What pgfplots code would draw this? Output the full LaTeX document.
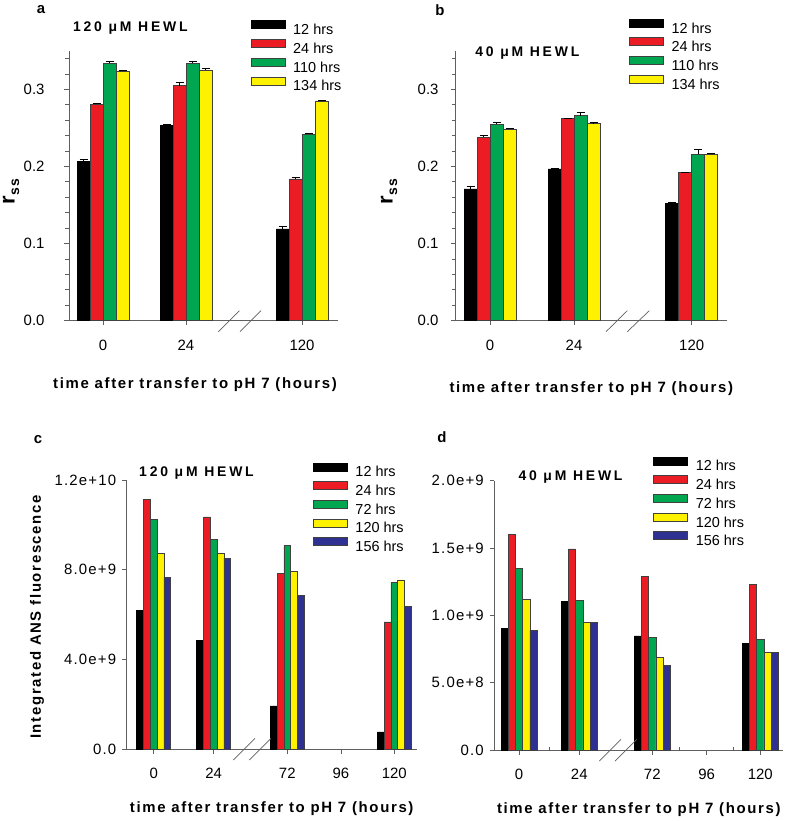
\documentclass[border=0pt]{standalone}
\usepackage{pgfplots}
\pgfplotsset{compat=1.18}
\usepackage{fontspec}
\setmainfont{Liberation Sans}
\newfontfamily\wideA[LetterSpace=11]{Liberation Sans}
\newfontfamily\wideT[LetterSpace=8]{Liberation Sans}
\newfontfamily\wideB[LetterSpace=20]{Liberation Sans}
\definecolor{cR}{RGB}{236,28,36}
\definecolor{cG}{RGB}{0,166,80}
\definecolor{cY}{RGB}{255,242,0}
\definecolor{cB}{RGB}{46,49,146}
\definecolor{axgray}{RGB}{95,95,95}
\newcommand{\fs}[1]{\fontsize{#1}{#1}\selectfont}

\pgfplotsset{
  panel/.style={
    scale only axis, anchor=south west, clip=false,
    xmin=0, ymin=0,
    axis x line*=bottom, axis y line*=left,
    axis line style={-, draw=axgray, line width=0.8bp},
    tick style={draw=axgray, line width=0.8bp},
    tick align=outside,
    major tick length=4.5bp, minor tick length=3.5bp,
    /pgf/number format/assume math mode=true,
    scaled y ticks=false,
    legend cell align=left,
    legend style={draw=none, fill=none, inner sep=0pt, outer sep=0pt, anchor=north west,
      column sep=8bp, row sep=0pt, font=\fs{14.5},
      nodes={inner sep=0pt, outer sep=0pt, text height=14.35bp, text depth=4.35bp}},
    every axis x label/.style={at={(axis description cs:0.5,0)}, anchor=center, font=\wideA\bfseries\fs{15}},
    every axis y label/.style={at={(axis description cs:0,0.5)}, anchor=center, rotate=90, font=\wideA\bfseries\fs{15}},
    error bars/error bar style={draw=black, line width=0.7bp},
    error bars/error mark options={draw=black, mark size=4bp, line width=0.7bp, rotate=90},
  },
  mybar/.style={ybar, line width=0.5bp,
    legend image code/.code={\draw[##1, line width=0.5bp] (0bp,1bp) rectangle (34bp,9bp);}},
  bK/.style={mybar, fill=black, draw=black},
  bR/.style={mybar, fill=cR, draw=black!75},
  bG/.style={mybar, fill=cG, draw=black!75},
  bY/.style={mybar, fill=cY, draw=black!75},
  bB/.style={mybar, fill=cB, draw=black!75},
  eb/.style={error bars/y dir=plus, error bars/y explicit},
}

\begin{document}
\begin{tikzpicture}
\useasboundingbox (0,0) rectangle (787bp,-821bp);

% ---------------- panel a
\begin{axis}[panel, at={(69bp,-320.7bp)}, width=269bp, height=269.9bp, xmax=269, ymax=0.35,
  ytick={0,0.1,0.2,0.3},
  minor ytick={0.02,0.04,0.06,0.08,0.12,0.14,0.16,0.18,0.22,0.24,0.26,0.28,0.32,0.34},
  yticklabel style={font=\fs{15}, xshift=-16.5bp, /pgf/number format/.cd, fixed, fixed zerofill, precision=1},
  xtick={34,117,233}, xticklabels={0,24,120}, xticklabel style={font=\fs{15}, yshift=-11.5bp},
  xlabel={time after transfer to pH 7 (hours)}, xlabel style={xshift=-8.5bp, yshift=-64.3bp},
  ylabel={r\raisebox{-0.4ex}{\fs{14}ss}}, ylabel style={font=\wideA\bfseries\fs{22}, inner sep=0pt, yshift=58bp, at={(axis description cs:0,0.478)}},
  legend style={at={(axis description cs:0.6755,1.113)}},
]
\addplot[bK, eb, bar width=13] coordinates {(14.5,0.207) +- (0,0.002) (97.5,0.253) +- (0,0.002) (213.5,0.119) +- (0,0.004)};
\addplot[bR, eb, bar width=13] coordinates {(27.5,0.281) +- (0,0.001) (110.5,0.305) +- (0,0.004) (226.5,0.184) +- (0,0.002)};
\addplot[bG, eb, bar width=13] coordinates {(40.5,0.334) +- (0,0.002) (123.5,0.334) +- (0,0.002) (239.5,0.242) +- (0,0.001)};
\addplot[bY, eb, bar width=13] coordinates {(53.5,0.324) +- (0,0.001) (136.5,0.325) +- (0,0.002) (252.5,0.285) +- (0,0.001)};
\legend{12 hrs, 24 hrs, 110 hrs, 134 hrs}
\draw[axgray, line width=0.7bp] (axis cs:149.3,0) ++(0bp,-11bp) -- ++(21bp,21bp);
\draw[axgray, line width=0.7bp] (axis cs:171,0) ++(0bp,-11bp) -- ++(21bp,21bp);
\end{axis}

% ---------------- panel b
\begin{axis}[panel, at={(455bp,-320.7bp)}, width=271.7bp, height=269.9bp, xmax=271.7, ymax=0.35,
  ytick={0,0.1,0.2,0.3},
  minor ytick={0.02,0.04,0.06,0.08,0.12,0.14,0.16,0.18,0.22,0.24,0.26,0.28,0.32,0.34},
  yticklabel style={font=\fs{15}, xshift=-8.5bp, /pgf/number format/.cd, fixed, fixed zerofill, precision=1},
  xtick={35,119,236.7}, xticklabels={0,24,120}, xticklabel style={font=\fs{15}, yshift=-11.5bp},
  xlabel={time after transfer to pH 7 (hours)}, xlabel style={xshift=0.4bp, yshift=-68bp},
  ylabel={r\raisebox{-0.4ex}{\fs{14}ss}}, ylabel style={font=\wideA\bfseries\fs{22}, inner sep=0pt, yshift=66bp, at={(axis description cs:0,0.478)}},
  legend style={at={(axis description cs:0.6404,1.119)}},
]
\addplot[bK, eb, bar width=13] coordinates {(15.5,0.171) +- (0,0.003) (99.5,0.197) +- (0,0.001) (217.2,0.152) +- (0,0.001)};
\addplot[bR, eb, bar width=13] coordinates {(28.5,0.238) +- (0,0.002) (112.5,0.262) +- (0,0.001) (230.2,0.192) +- (0,0.001)};
\addplot[bG, eb, bar width=13] coordinates {(41.5,0.255) +- (0,0.002) (125.5,0.266) +- (0,0.004) (243.2,0.216) +- (0,0.006)};
\addplot[bY, eb, bar width=13] coordinates {(54.5,0.248) +- (0,0.002) (138.5,0.256) +- (0,0.001) (256.2,0.216) +- (0,0.001)};
\legend{12 hrs, 24 hrs, 110 hrs, 134 hrs}
\draw[axgray, line width=0.7bp] (axis cs:151,0) ++(0bp,-11bp) -- ++(21.3bp,21bp);
\draw[axgray, line width=0.7bp] (axis cs:172.3,0) ++(0bp,-11bp) -- ++(22bp,21bp);
\end{axis}

% ---------------- panel c
\begin{axis}[panel, at={(126.7bp,-749bp)}, width=290bp, height=269bp, xmax=290, ymax=1.2e10,
  ytick={0,4e9,8e9,1.2e10}, yticklabels={0.0,4.0e+9,8.0e+9,1.2e+10},
  yticklabel style={font=\wideT\fs{15}, xshift=-2.5bp},
  xtick={27,87,160.6,214.3,267.6}, xticklabels={0,24,72,96,120}, xticklabel style={font=\fs{15}, yshift=-11.5bp},
  xlabel={time after transfer to pH 7 (hours)}, xlabel style={yshift=-59.7bp},
  ylabel={Integrated ANS fluorescence}, ylabel style={yshift=89.7bp, at={(axis description cs:0,0.491)}},
  legend style={at={(axis description cs:0.6424,1.065)}},
]
\addplot[bK, bar width=6.8, bar shift=-13.6] coordinates {(27,6.17e9) (87,4.83e9) (160.6,1.92e9) (267.6,0.77e9)};
\addplot[bR, bar width=6.8, bar shift=-6.8] coordinates {(27,11.15e9) (87,10.36e9) (160.6,7.84e9) (267.6,5.67e9)};
\addplot[bG, bar width=6.8, bar shift=0] coordinates {(27,10.26e9) (87,9.35e9) (160.6,9.07e9) (267.6,7.42e9)};
\addplot[bY, bar width=6.8, bar shift=6.8] coordinates {(27,8.74e9) (87,8.73e9) (160.6,7.93e9) (267.6,7.54e9)};
\addplot[bB, bar width=6.8, bar shift=13.6] coordinates {(27,7.67e9) (87,8.52e9) (160.6,6.86e9) (267.6,6.35e9)};
\legend{12 hrs, 24 hrs, 72 hrs, 120 hrs, 156 hrs}
\draw[axgray, line width=0.7bp] (axis cs:106.6,0) ++(0bp,-11bp) -- ++(21.7bp,21.7bp);
\draw[axgray, line width=0.7bp] (axis cs:122.6,0) ++(0bp,-11bp) -- ++(21.7bp,21.7bp);
\end{axis}

% ---------------- panel d
\begin{axis}[panel, at={(494.3bp,-750bp)}, width=289bp, height=269.3bp, xmax=289, ymax=2e9,
  ytick={0,5e8,1e9,1.5e9,2e9}, yticklabels={0.0,5.0e+8,1.0e+9,1.5e+9,2.0e+9},
  yticklabel style={font=\wideT\fs{15}, xshift=-2.5bp},
  xtick={24.7,85,158,212.4,266}, xticklabels={0,24,72,96,120}, xticklabel style={font=\fs{15}, yshift=-11.5bp},
  extra x ticks={55.4,185,239}, extra x tick labels={\empty,\empty,\empty},
  extra x tick style={tick align=inside, major tick length=3.5bp},
  xlabel={time after transfer to pH 7 (hours)}, xlabel style={yshift=-60bp},
  legend style={at={(axis description cs:0.5502,1.0896)}},
]
\addplot[bK, bar width=7.2, bar shift=-14.4] coordinates {(24.7,0.903e9) (85,1.104e9) (158,0.847e9) (266,0.790e9)};
\addplot[bR, bar width=7.2, bar shift=-7.2] coordinates {(24.7,1.601e9) (85,1.493e9) (158,1.287e9) (266,1.230e9)};
\addplot[bG, bar width=7.2, bar shift=0] coordinates {(24.7,1.349e9) (85,1.111e9) (158,0.837e9) (266,0.824e9)};
\addplot[bY, bar width=7.2, bar shift=7.2] coordinates {(24.7,1.116e9) (85,0.948e9) (158,0.688e9) (266,0.723e9)};
\addplot[bB, bar width=7.2, bar shift=14.4] coordinates {(24.7,0.891e9) (85,0.950e9) (158,0.629e9) (266,0.725e9)};
\legend{12 hrs, 24 hrs, 72 hrs, 120 hrs, 156 hrs}
\draw[axgray, line width=0.7bp] (axis cs:105,0) ++(0bp,-11bp) -- ++(21.7bp,21.7bp);
\draw[axgray, line width=0.7bp] (axis cs:120.7,0) ++(0bp,-11bp) -- ++(21.7bp,21.7bp);
\end{axis}

% ---------------- titles and panel letters
\node[anchor=base, font=\wideB\bfseries\fs{14}] at (130.4bp,-31.7bp) {120 μM HEWL};
\node[anchor=base, font=\wideB\bfseries\fs{14}] at (527.3bp,-56.7bp) {40 μM HEWL};
\node[anchor=base, font=\wideB\bfseries\fs{14}] at (196.5bp,-476.7bp) {120 μM HEWL};
\node[anchor=base, font=\wideB\bfseries\fs{14}] at (570.5bp,-480bp) {40 μM HEWL};
\node[anchor=base, font=\bfseries\fs{15}] at (41bp,-13.3bp) {a};
\node[anchor=base, font=\bfseries\fs{15}] at (440bp,-15bp) {b};
\node[anchor=base, font=\bfseries\fs{15}] at (38bp,-443bp) {c};
\node[anchor=base, font=\bfseries\fs{15}] at (442bp,-442.7bp) {d};
\end{tikzpicture}
\end{document}
